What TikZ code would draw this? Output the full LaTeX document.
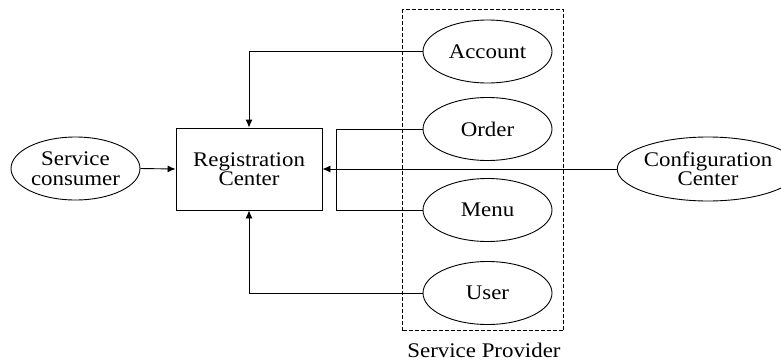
\documentclass[tikz,border=0pt]{standalone}
\usepackage{fontspec}
\setmainfont{Liberation Serif}[FakeStretch=1.1]
\usetikzlibrary{shapes.geometric,arrows.meta}
\tikzset{
  oval/.style={draw, ellipse, line width=0.9pt, minimum width=129pt, minimum height=63pt, inner sep=0pt, align=center, font=\fontsize{20.8}{19.5}\selectfont},
  regbox/.style={draw, rectangle, line width=0.9pt, minimum width=146pt, minimum height=82pt, inner sep=0pt, align=center, font=\fontsize{20.8}{19.5}\selectfont},
  conn/.style={line width=0.9pt},
  arr/.style={conn, -{Latex[length=8pt,width=7pt]}},
  provider/.style={draw, dash pattern=on 4pt off 2pt, line width=0.8pt}
}
\begin{document}
\begin{tikzpicture}[x=1pt,y=-1pt]
\useasboundingbox (0,0) rectangle (781,362);
\node[provider, minimum width=161pt, minimum height=321pt, inner sep=0pt] (prov) at (483,170) {};
\node[font=\fontsize{20.8}{20}\selectfont, inner sep=0pt] (provlbl) at (484,350) {Service Provider};
\node[regbox] (reg) at (249,169) {Registration\\Center};
\node[oval] (con) at (75.5,168.5) {Service\\consumer};
\node[oval] (acc) at (487.5,51.5) {Account};
\node[oval] (ord) at (487.5,129) {Order};
\node[oval] (men) at (487.5,210) {Menu};
\node[oval] (usr) at (487.5,293) {User};
\node[oval, minimum width=170pt, minimum height=64pt] (cfg) at (708,169) {Configuration\\Center};
\coordinate (brk) at (336,169);
\draw[arr] (acc.west) -| (reg.north);
\draw[arr] (usr.west) -| (reg.south);
\draw[arr] (con.east) -- (reg.west);
\draw[arr] (cfg.west) -- (reg.east);
\draw[conn] (ord.west) -- (ord.west -| brk) |- (men.west);
\end{tikzpicture}
\end{document}
